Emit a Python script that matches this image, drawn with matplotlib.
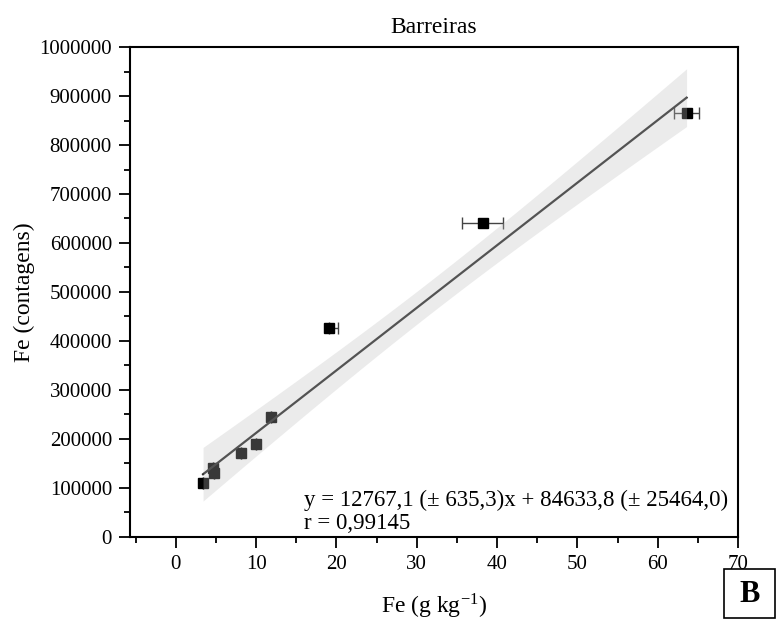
import numpy as np
import matplotlib
matplotlib.use("Agg")
import matplotlib.pyplot as plt
from matplotlib.ticker import MultipleLocator
from matplotlib.patches import Rectangle

plt.rcParams['font.family'] = ['Liberation Serif', 'DejaVu Serif']
plt.rcParams['mathtext.fontset'] = 'stix'

# Dados (Fe g/kg vs contagens)
fe_ref = np.array([3.4, 4.6, 4.7, 8.1, 10.0, 11.8, 19.1, 38.2, 63.6])
fe_cont = np.array([110000, 141000, 131000, 171000, 190000, 245000, 426500, 641000, 865000])
xerr_lo = np.array([0, 0, 0, 0, 0, 0, 0.0, 2.5, 1.6])
xerr_hi = np.array([0, 0, 0, 0, 0, 0, 1.1, 2.5, 1.6])

# ajuste linear (valores do gráfico)
slope = 12767.1
intercept = 84633.8
texto_eq = "y = 12767,1 (± 635,3)x + 84633,8 (± 25464,0)\nr = 0,99145"

# banda de confiança: centro, meia-largura mínima, curvatura
banda_centro = 31.8
banda_min = 33400
banda_curv = 2.33e6

fig = plt.figure(figsize=(7.76, 6.21), dpi=100)
ax = fig.add_axes([0.1675, 0.1353, 0.7835, 0.789])

# barras de erro e pontos
ax.errorbar(fe_ref, fe_cont, xerr=[xerr_lo, xerr_hi], fmt='none', ecolor='#444444',
            elinewidth=1, capsize=4, capthick=1, zorder=2)
ax.plot(fe_ref, fe_cont, 's', color='black', markersize=7.5, zorder=3)

# reta de ajuste
xx = np.linspace(fe_ref.min(), fe_ref.max(), 200)
yy = slope * xx + intercept
ax.plot(xx, yy, color='#262626', lw=1.6, zorder=4)

band = np.sqrt(banda_min**2 + banda_curv * (xx - banda_centro)**2)
ax.fill_between(xx, yy - band, yy + band, color=(190/255, 190/255, 190/255),
                alpha=0.3, lw=0, zorder=5)

ax.set_xlim(-5.7, 70)
ax.set_ylim(0, 1000000)
ax.xaxis.set_major_locator(MultipleLocator(10))
ax.xaxis.set_minor_locator(MultipleLocator(5))
ax.yaxis.set_major_locator(MultipleLocator(100000))
ax.yaxis.set_minor_locator(MultipleLocator(50000))
ax.ticklabel_format(axis='y', style='plain', useOffset=False)
ax.tick_params(which='major', direction='out', length=8, width=1.3, labelsize=15, pad=5)
ax.tick_params(which='minor', direction='out', length=4, width=1.3)
for sp in ax.spines.values():
    sp.set_linewidth(1.5)

ax.set_xlabel(r"Fe (g kg$^{\mathregular{-1}}$)", fontsize=17, labelpad=13)
ax.set_ylabel("Fe (contagens)", fontsize=17, labelpad=3)
ax.set_title("Barreiras", fontsize=17, pad=10)

ax.text(0.286, 0.006, texto_eq, transform=ax.transAxes, fontsize=16.5,
        ha='left', va='bottom', linespacing=1.12, zorder=6)

# caixa "B"
fig.patches.append(Rectangle((724/776, 3/621), 51/776, 49/621, transform=fig.transFigure,
                             fc='white', ec='black', lw=1.2))
fig.text(749.5/776, 27/621, "B", fontsize=22, fontweight='bold', ha='center', va='center')

fig.savefig("out.png", dpi=100)
